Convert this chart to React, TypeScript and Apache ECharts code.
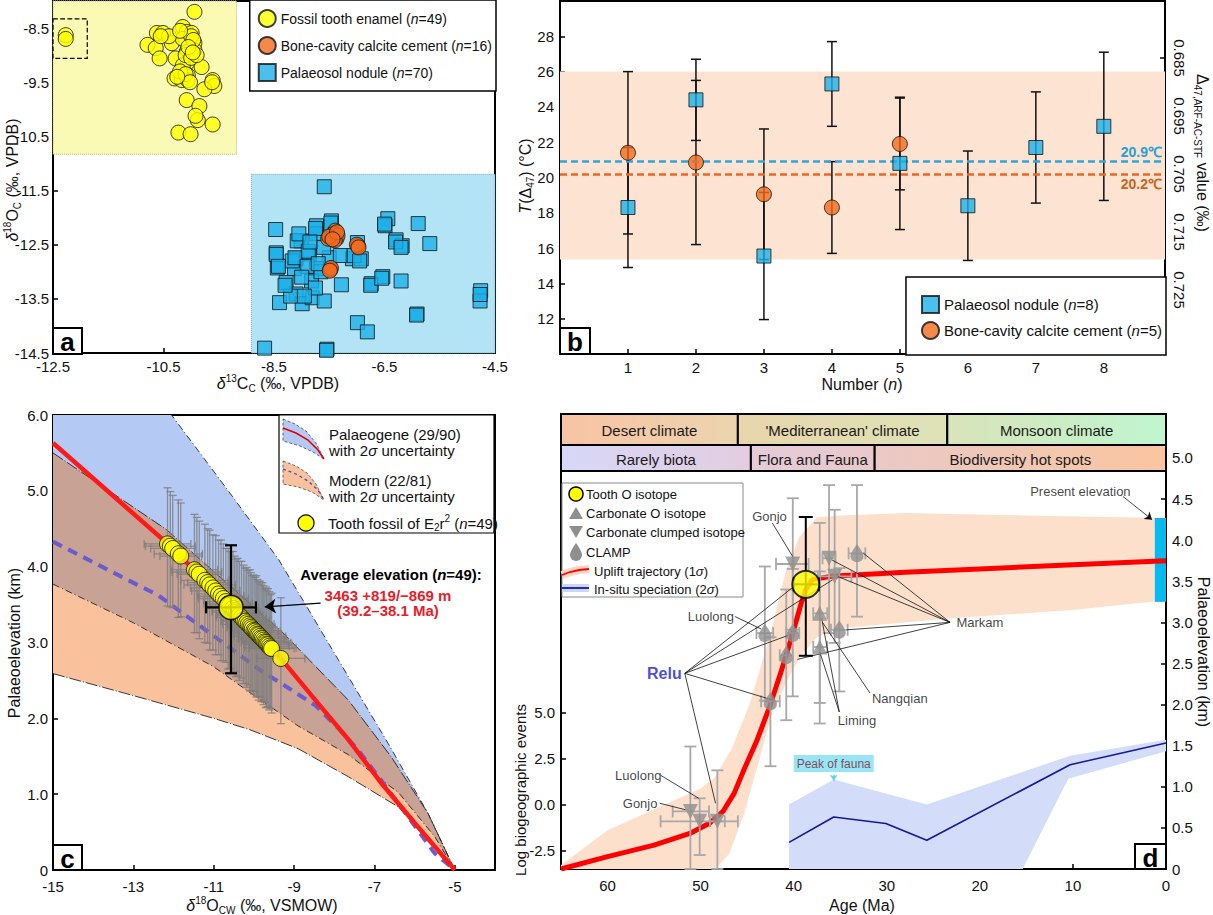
import React, { useEffect, useRef } from "react";
import * as echarts from "echarts";

echarts.graphic.registerShape(
  "dropShape",
  echarts.graphic.extendPath("M6,0C6,0,0,8,0,12A6,6,0,1,0,12,12C12,8,6,0,6,0Z", {})
);

const FONT = "'Liberation Sans', Arial, Helvetica, sans-serif";
const DROP = "path://M6,0C6,0,0,8,0,12A6,6,0,1,0,12,12C12,8,6,0,6,0Z";

// ---------------- Panel a ----------------
const toothEnamelA = [
  [-12.27, -8.63], [-12.27, -8.7], [-9.94, -8.2], [-10.79, -8.81], [-10.62, -8.59], [-10.51, -8.59],
  [-10.64, -8.87], [-10.57, -9.06], [-10.35, -8.78], [-10.15, -8.48], [-10.08, -8.57], [-9.99, -8.59],
  [-10.15, -8.7], [-9.94, -8.78], [-9.94, -8.91], [-10.08, -8.94], [-10.28, -9.06], [-10.06, -9.13],
  [-9.81, -9.22], [-10.15, -9.19], [-10.3, -9.43], [-10.06, -9.37], [-10.17, -9.46], [-10.06, -9.46],
  [-9.61, -9.46], [-9.58, -9.57], [-9.76, -9.63], [-10.08, -9.83], [-9.85, -9.94], [-9.88, -10.2],
  [-9.61, -10.28], [-10.23, -10.43], [-10.01, -10.46], [-10.0, -8.65], [-9.96, -8.72], [-10.1, -9.0],
  [-10.0, -9.05], [-10.2, -9.3], [-10.1, -9.35], [-9.9, -9.0], [-10.4, -8.65], [-10.02, -9.5],
  [-9.62, -9.5], [-9.92, -10.12], [-10.25, -9.4], [-10.05, -8.85], [-10.2, -8.55], [-10.55, -8.65],
  [-9.97, -8.95],
];
const boneCementA = [
  [-7.39, -12.24], [-7.52, -12.39], [-7.37, -12.39], [-6.98, -12.52], [-7.48, -12.96], [-7.42, -12.3],
  [-7.45, -12.36], [-7.35, -12.33], [-7.4, -12.42], [-7.5, -12.35], [-7.0, -12.5], [-6.97, -12.55],
  [-7.47, -12.93], [-7.49, -12.98], [-7.36, -12.27], [-7.44, -12.4],
];
const palaeosolA = [
  [-7.59, -11.43], [-8.47, -12.22], [-7.73, -12.15], [-7.46, -12.06], [-6.44, -12.02], [-6.49, -12.15],
  [-5.89, -12.11], [-8.01, -12.43], [-7.73, -12.3], [-6.99, -12.46], [-6.29, -12.41], [-6.18, -12.52],
  [-5.68, -12.48], [-8.46, -12.65], [-8.1, -12.76], [-7.86, -12.67], [-7.5, -12.74], [-7.08, -12.76],
  [-6.92, -12.76], [-8.44, -12.93], [-8.13, -12.94], [-7.73, -12.94], [-7.82, -13.17], [-8.28, -13.2],
  [-7.28, -13.24], [-6.74, -13.22], [-6.53, -13.09], [-6.2, -13.17], [-8.1, -13.41], [-8.4, -13.57],
  [-7.99, -13.59], [-7.81, -13.48], [-7.59, -13.54], [-6.99, -13.94], [-6.81, -14.11], [-5.91, -13.78],
  [-4.76, -13.35], [-4.77, -13.54], [-8.67, -14.41], [-7.54, -14.43], [-8.17, -12.8], [-8.08, -12.43],
  [-8.46, -12.68], [-8.12, -12.74], [-7.88, -12.62], [-7.75, -12.2], [-7.47, -12.1], [-7.6, -12.55],
  [-7.9, -12.9], [-7.65, -13.0], [-8.0, -13.1], [-7.75, -13.3], [-8.2, -13.45], [-7.95, -13.45],
  [-7.3, -12.7], [-7.05, -12.7], [-6.95, -12.8], [-6.5, -12.12], [-6.3, -12.45], [-6.2, -12.55],
  [-6.75, -13.25], [-6.55, -13.12], [-5.92, -13.8], [-4.77, -13.42], [-7.55, -14.45], [-8.05, -12.3],
  [-7.85, -12.45], [-8.3, -13.25], [-7.7, -12.85], [-8.42, -12.9],
];
const toothRegionA = [[-12.5, -8.0], [-9.18, -10.83]];
const noduleRegionA = [[-8.91, -11.2], [-4.5, -14.5]];
const outlierBoxA = [[-12.5, -8.33], [-11.88, -9.06]];
const aXTicks = [-12.5, -10.5, -8.5, -6.5, -4.5];
const aYTicks = [-14.5, -13.5, -12.5, -11.5, -10.5, -9.5, -8.5];

// ---------------- Panel b ----------------
const bNoduleN = [1, 2, 3, 4, 5, 6, 7, 8];
const bNoduleT = [18.3, 24.4, 15.55, 25.3, 20.8, 18.4, 21.7, 22.9];
const bNoduleErr = [3.4, 2.3, 3.6, 2.4, 3.75, 3.1, 3.15, 4.2];
const bCementN = [1, 2, 3, 4, 5];
const bCementT = [21.4, 20.85, 19.05, 18.3, 21.9];
const bCementErr = [4.6, 4.65, 3.7, 2.6, 2.6];
const bRange = [15.35, 26.0];
const bNoduleMean = 20.9;
const bCementMean = 20.2;
const bXTicks = [1, 2, 3, 4, 5, 6, 7, 8];
const bYTicks = [12, 14, 16, 18, 20, 22, 24, 26, 28];
const bRightTicks = [0.685, 0.695, 0.705, 0.715, 0.725];

// ---------------- Panel c ----------------
const palaeogeneMean = [[-15, 5.63], [-12.1, 4.28], [-10.57, 3.47], [-9.33, 2.79], [-8.47, 2.24], [-7.65, 1.72], [-6.82, 1.14], [-6.0, 0.62], [-5, 0]];
const palaeogeneUpper = [[-15, 8.1], [-13.5, 7.05], [-12.05, 6.0], [-10.54, 4.93], [-9.38, 4.09], [-8.85, 3.62], [-7.65, 2.55], [-6.66, 1.67], [-5.67, 0.75], [-5, 0]];
const palaeogeneLower = [[-15, 3.77], [-13, 3.26], [-11, 2.68], [-10.1, 2.34], [-8.9, 1.9], [-7.65, 1.52], [-6.4, 1.02], [-5.5, 0.44], [-5, 0]];
const modernMean = [[-15, 4.33], [-12.9, 3.76], [-12.4, 3.63], [-9.8, 2.62], [-9.2, 2.42], [-8.47, 2.17], [-7.9, 1.87], [-7.4, 1.58], [-6.66, 1.06], [-6.16, 0.7], [-5.5, 0.22], [-5, 0]];
const modernUpper = [[-15, 5.5], [-12.18, 4.49], [-9.3, 3.14], [-7.65, 2.24], [-6.58, 1.49], [-5.67, 0.75], [-5, 0]];
const modernLower = [[-15, 2.59], [-13, 2.3], [-11, 2.0], [-10.1, 1.85], [-8.9, 1.6], [-7.65, 1.23], [-6.4, 0.83], [-5.5, 0.33], [-5, 0]];
// [d18O, elevation km, d18O err, elev +err, elev -err]
const toothFossilC = [
  [-12.15, 4.3, 0.58, 0.74, 0.82], [-12.08, 4.27, 0.62, 0.72, 0.8], [-12.02, 4.24, 0.55, 0.7, 0.78],
  [-11.88, 4.17, 0.6, 0.71, 0.84], [-11.82, 4.14, 0.52, 0.7, 0.8], [-11.48, 3.96, 0.58, 0.73, 0.83],
  [-11.42, 3.93, 0.62, 0.72, 0.8], [-11.36, 3.9, 0.55, 0.7, 0.85], [-11.22, 3.82, 0.6, 0.74, 0.82],
  [-11.15, 3.79, 0.5, 0.71, 0.8], [-11.1, 3.76, 0.64, 0.72, 0.86], [-11.02, 3.72, 0.56, 0.7, 0.82],
  [-10.95, 3.68, 0.6, 0.73, 0.84], [-10.88, 3.64, 0.52, 0.71, 0.8], [-10.82, 3.61, 0.58, 0.74, 0.85],
  [-10.76, 3.58, 0.62, 0.72, 0.82], [-10.7, 3.54, 0.55, 0.7, 0.8], [-10.64, 3.51, 0.6, 0.73, 0.86],
  [-10.6, 3.49, 0.5, 0.71, 0.83], [-10.52, 3.45, 0.64, 0.75, 0.84], [-10.48, 3.42, 0.56, 0.72, 0.8],
  [-10.44, 3.4, 0.6, 0.7, 0.85], [-10.4, 3.38, 0.52, 0.73, 0.82], [-10.36, 3.36, 0.58, 0.71, 0.86],
  [-10.31, 3.33, 0.62, 0.74, 0.8], [-10.26, 3.3, 0.55, 0.72, 0.84], [-10.22, 3.28, 0.6, 0.7, 0.82],
  [-10.18, 3.26, 0.5, 0.73, 0.85], [-10.14, 3.24, 0.64, 0.71, 0.8], [-10.1, 3.22, 0.56, 0.74, 0.86],
  [-10.07, 3.2, 0.6, 0.72, 0.83], [-10.04, 3.18, 0.52, 0.7, 0.82], [-10.0, 3.16, 0.58, 0.73, 0.84],
  [-9.97, 3.15, 0.62, 0.71, 0.8], [-9.94, 3.13, 0.55, 0.75, 0.85], [-9.91, 3.11, 0.6, 0.72, 0.82],
  [-9.88, 3.1, 0.5, 0.7, 0.86], [-9.85, 3.08, 0.64, 0.73, 0.8], [-9.82, 3.06, 0.56, 0.71, 0.84],
  [-9.79, 3.05, 0.6, 0.74, 0.82], [-9.76, 3.03, 0.52, 0.72, 0.85], [-9.73, 3.01, 0.58, 0.7, 0.8],
  [-9.7, 3.0, 0.62, 0.73, 0.86], [-9.68, 2.98, 0.55, 0.71, 0.83], [-9.65, 2.97, 0.6, 0.74, 0.82],
  [-9.62, 2.95, 0.5, 0.72, 0.84], [-9.59, 2.93, 0.64, 0.7, 0.8], [-9.56, 2.92, 0.56, 0.73, 0.85],
  [-9.33, 2.79, 0.6, 0.8, 0.86],
];
const averageC = [-10.57, 3.463, 0.62, 0.819, 0.869];
const cXTicks = [-15, -13, -11, -9, -7, -5];
const cYTicks = [0, 1, 2, 3, 4, 5, 6];

// ---------------- Panel d ----------------
const upliftTrajectory = [[65, 0], [60, 0.15], [55, 0.29], [51, 0.44], [49, 0.56], [47.6, 0.7], [46.4, 0.92], [45.3, 1.22], [44, 1.55], [42.6, 1.97], [41.3, 2.42], [40.2, 2.83], [39.2, 3.23], [38.7, 3.4], [38.0, 3.52], [36, 3.56], [28, 3.61], [20, 3.65], [10, 3.7], [0, 3.75]];
const upliftUpper = [[65, 0.05], [60, 0.47], [54.5, 0.75], [50, 0.98], [48.6, 1.1], [46.7, 1.45], [44.7, 2.02], [42.6, 2.82], [40.8, 3.64], [39.4, 4.04], [37.5, 4.28], [35, 4.3], [28, 4.33], [15, 4.3], [0, 4.27]];
const upliftLower = [[65, 0], [48.4, 0], [46.9, 0.19], [45.3, 0.68], [43.8, 1.29], [42.3, 1.9], [40.7, 2.3], [39.2, 2.6], [37.5, 2.82], [36, 2.9], [35, 2.93], [23, 3.05], [10, 3.15], [0, 3.27]];
const speciationLine = [[40.5, -2.05], [35.7, -0.67], [30.1, -1.03], [25.7, -1.94], [10.3, 2.17], [0, 3.35]];
const speciationUpper = [[40.5, 0.0], [35.7, 1.36], [25.7, 0.0], [10.3, 2.66], [0, 3.53]];
const speciationLower = [[40.5, -3.5], [15.4, -3.5], [10.5, 1.41], [0, 2.9]];
const presentElevationTop = [[1.2, 4.27], [0, 4.27]];
const presentElevationBottom = [[1.2, 3.25], [0, 3.25]];
// [age, km, ageLow, ageHigh, kmLow, kmHigh]
const toothD = [[38.7, 3.463, 40.0, 37.3, 2.594, 4.282]];
const carbonateO = [[37.2, 3.11, 37.9, 36.4, 2.02, 4.21], [37.2, 2.7, 37.9, 36.4, 1.77, 3.62]];
const clumped = [
  [40.1, 3.71, 41.9, 38.4, 2.91, 4.51], [36.2, 3.78, 36.9, 35.5, 2.87, 4.67], [35.6, 3.56, 37.4, 33.8, 2.75, 4.37],
  [51.1, 0.7, 53.0, 49.1, 0.0, 1.49], [50.1, 0.58, 54.3, 46.0, 0.17, 0.86], [48.2, 0.58, 49.0, 47.4, 0.0, 1.2],
];
const clamp = [
  [43.1, 2.87, 44.0, 42.2, 2.05, 3.68], [40.1, 2.87, 40.8, 39.4, 2.1, 3.65], [40.8, 2.6, 41.5, 40.1, 1.81, 3.4],
  [42.5, 2.04, 43.5, 41.5, 1.25, 2.82], [35.1, 2.91, 36.0, 34.2, 2.16, 3.66], [33.2, 3.84, 34.1, 32.3, 3.07, 4.67],
];
const siteLabels = [
  { text: "Gonjo", age: 42.6, km: 4.29 }, { text: "Luolong", age: 48.9, km: 3.07 },
  { text: "Relu", age: 53.9, km: 2.38 }, { text: "Liming", age: 33.2, km: 1.81 },
  { text: "Nangqian", age: 28.6, km: 2.07 }, { text: "Markam", age: 20.0, km: 3.0 },
  { text: "Luolong", age: 56.7, km: 1.14 }, { text: "Gonjo", age: 56.5, km: 0.8 },
  { text: "Present elevation", age: 9.2, km: 4.59 },
];
const leaderLines = [
  [[42.3, 4.21], [40.1, 3.8]], [[46.3, 3.07], [43.5, 2.92]],
  [[51.7, 2.38], [39.5, 3.48]], [[51.7, 2.38], [35.8, 3.52]], [[51.7, 2.38], [40.4, 2.85]],
  [[51.7, 2.38], [42.4, 2.06]], [[51.7, 2.38], [48.4, 0.8]],
  [[35.1, 1.91], [37.2, 2.64]], [[35.1, 1.91], [37.0, 3.05]], [[31.8, 2.14], [36.9, 3.0]],
  [[23.2, 3.0], [32.5, 3.84]], [[23.2, 3.0], [35.9, 3.76]], [[23.2, 3.0], [35.3, 3.56]],
  [[23.2, 3.0], [34.3, 2.91]], [[23.2, 3.0], [39.6, 2.55]],
  [[54.3, 1.14], [50.2, 0.86]], [[54.4, 0.8], [51.6, 0.72]],
];
const presentArrow = [[4.6, 4.53], [1.5, 4.25]];
const peakOfFauna = { text: "Peak of fauna", age: 35.7, log: 2.23 };
const peakArrow = [[35.7, 1.62], [35.7, 1.3]];
const climateRow = [
  { label: "Desert climate", from: 65, to: 46.0 },
  { label: "'Mediterranean' climate", from: 46.0, to: 23.5 },
  { label: "Monsoon climate", from: 23.5, to: 0 },
];
const biotaRow = [
  { label: "Rarely biota", from: 65, to: 44.6 },
  { label: "Flora and Fauna", from: 44.6, to: 31.3 },
  { label: "Biodiversity hot spots", from: 31.3, to: 0 },
];
const dXTicks = [0, 10, 20, 30, 40, 50, 60];
const dLeftTicks = [-2.5, 0, 2.5, 5];
const dRightTicks = [0, 0.5, 1, 1.5, 2, 2.5, 3, 3.5, 4, 4.5, 5];

// ---------------- styles ----------------
const climateColors = [["#f8c3a5", "#ecd4ae"], ["#e9d5ab", "#dde3b7"], ["#d9e3b9", "#bff6cf"]];
const biotaColors = [["#d7d7f8", "#e3cddf"], ["#e5cbd9", "#e8c8cb"], ["#e9c9c7", "#fac5a0"]];

function mkRich(size: number, weight = "normal") {
  const s = Math.round(size * 0.64);
  return {
    i: { fontStyle: "italic", fontSize: size, fontFamily: FONT, fontWeight: weight },
    sup: { fontSize: s, fontFamily: FONT, fontWeight: weight, verticalAlign: "top", lineHeight: s + 1 },
    sub: { fontSize: s, fontFamily: FONT, fontWeight: weight, verticalAlign: "bottom", lineHeight: s + 1 },
  };
}

function axisCommon(ticks: number[], fmt: (v: number) => string, labelExtra: any = {}) {
  return {
    axisLine: { show: true, onZero: false, lineStyle: { color: "#000", width: 2 } },
    axisTick: { show: true, inside: true, length: 5, customValues: ticks, lineStyle: { color: "#000", width: 1.5 } },
    axisLabel: { show: true, customValues: ticks, formatter: fmt, color: "#111", fontSize: 15, fontFamily: FONT, margin: 6, ...labelExtra },
    splitLine: { show: false },
    minorTick: { show: false },
  };
}

function bandSeries(xi: number, yi: number, upper: number[][], lower: number[][], color: string, z: number) {
  return {
    type: "custom", xAxisIndex: xi, yAxisIndex: yi, z, silent: true, clip: true,
    data: [lower[0]], encode: { x: 0, y: 1 },
    renderItem: (params: any, api: any) => {
      const pts = upper.map((p) => api.coord(p)).concat(lower.slice().reverse().map((p) => api.coord(p)));
      const cs = params.coordSys;
      return {
        type: "polygon", shape: { points: pts }, style: { fill: color },
        clipPath: { type: "rect", shape: { x: cs.x, y: cs.y, width: cs.width, height: cs.height } },
      };
    },
  };
}

function errSeries(xi: number, yi: number, data: number[][], color: string, width: number, cap: number, z: number) {
  return {
    type: "custom", xAxisIndex: xi, yAxisIndex: yi, z, silent: true, data, encode: { x: 0, y: 1 },
    renderItem: (params: any, api: any) => {
      const x = api.value(0), y = api.value(1);
      const xl = api.value(2), xh = api.value(3), yl = api.value(4), yh = api.value(5);
      const st = { stroke: color, lineWidth: width };
      const ch: any[] = [];
      const ln = (x1: number, y1: number, x2: number, y2: number) =>
        ch.push({ type: "line", shape: { x1, y1, x2, y2 }, style: st });
      if (yl !== yh) {
        const a = api.coord([x, yl]), b = api.coord([x, yh]);
        ln(a[0], a[1], b[0], b[1]);
        ln(a[0] - cap, a[1], a[0] + cap, a[1]);
        ln(b[0] - cap, b[1], b[0] + cap, b[1]);
      }
      if (xl !== xh) {
        const a = api.coord([xl, y]), b = api.coord([xh, y]);
        ln(a[0], a[1], b[0], b[1]);
        ln(a[0], a[1] - cap, a[0], a[1] + cap);
        ln(b[0], b[1] - cap, b[0], b[1] + cap);
      }
      return { type: "group", children: ch };
    },
  };
}

function rowSeries(xi: number, yi: number, row: any[], colors: string[][]) {
  return {
    type: "custom", xAxisIndex: xi, yAxisIndex: yi, z: 20, silent: true,
    data: row.map((r) => [r.from, r.to]),
    renderItem: (params: any, api: any) => {
      const i = params.dataIndex;
      const a = api.coord([api.value(0), 1]);
      const b = api.coord([api.value(1), 0]);
      const x = Math.min(a[0], b[0]), w = Math.abs(b[0] - a[0]);
      const y = Math.min(a[1], b[1]), h = Math.abs(b[1] - a[1]);
      return {
        type: "group",
        children: [
          {
            type: "rect", shape: { x, y, width: w, height: h },
            style: {
              fill: new echarts.graphic.LinearGradient(0, 0, 1, 0, [
                { offset: 0, color: colors[i][0] }, { offset: 1, color: colors[i][1] },
              ]),
              stroke: "#000", lineWidth: 2,
            },
          },
          {
            type: "text",
            style: {
              text: row[i].label, x: x + w / 2, y: y + h / 2 + 1,
              align: "center", verticalAlign: "middle", textAlign: "center", textVerticalAlign: "middle",
              fontSize: 15, fontFamily: FONT, fill: "#1a1a1a",
            },
          },
        ],
      };
    },
  };
}

function buildOption() {
  const graphics: any[] = [];
  const text = (x: number, y: number, t: string, o: any = {}) => {
    const size = o.size || 16;
    graphics.push({
      type: "text", x, y, z: 100, silent: true, rotation: o.rotation || 0,
      style: {
        text: t, fill: o.color || "#111", fontSize: size, fontFamily: FONT, fontWeight: o.weight || "normal",
        align: o.align || "center", textAlign: o.align || "center",
        verticalAlign: "middle", textVerticalAlign: "middle",
        lineHeight: size + 4, rich: mkRich(size, o.weight || "normal"),
      },
    });
  };
  // panel labels
  [
    { x: 53, y: 328, w: 29, h: 26, t: "a" }, { x: 560, y: 328, w: 30, h: 26, t: "b" },
    { x: 53, y: 845, w: 29, h: 25, t: "c" }, { x: 1135, y: 844, w: 31, h: 25, t: "d" },
  ].forEach((p) => {
    graphics.push({ type: "rect", z: 99, silent: true, shape: { x: p.x, y: p.y, width: p.w, height: p.h }, style: { fill: "#fff", stroke: "#000", lineWidth: 2 } });
    graphics.push({
      type: "text", z: 100, silent: true, x: p.x + p.w / 2, y: p.y + p.h / 2 + 1,
      style: { text: p.t, fontSize: 26, fontWeight: "bold", fontFamily: FONT, fill: "#000", align: "center", textAlign: "center", verticalAlign: "middle", textVerticalAlign: "middle" },
    });
  });
  // axis titles
  const R = Math.PI / 2;
  text(278, 383, "{i|δ}{sup|13}C{sub|C} (‰, VPDB)");
  text(12, 180, "{i|δ}{sup|18}O{sub|C} (‰, VPDB)", { rotation: R });
  text(862, 384, "Number ({i|n})");
  text(525, 176, "{i|T}(Δ{sub|47}) (°C)", { rotation: R });
  text(1202, 153, "Δ{sub|47,ARF-AC-STF} value (‰)", { rotation: -R });
  text(262, 905, "{i|δ}{sup|18}O{sub|CW} (‰, VSMOW)");
  text(14, 643, "Palaeoelevation (km)", { rotation: R });
  text(862, 905, "Age (Ma)");
  text(520, 790, "Log biogeographic events", { rotation: R, size: 15 });
  text(1203, 652, "Palaeoelevation (km)", { rotation: -R });

  // panel c legend
  graphics.push({ type: "rect", z: 90, silent: true, shape: { x: 279, y: 415, width: 215, height: 118 }, style: { fill: "#fff", stroke: "#000", lineWidth: 1.2 } });
  graphics.push({ type: "polygon", z: 95, silent: true, shape: { points: [[283, 419], [295, 424], [306, 431], [316, 443], [324, 459], [313, 452], [300, 446], [290, 443], [283, 441]] }, style: { fill: "#b4c9f3", stroke: "#333", lineWidth: 0.7, lineDash: [3, 2] } });
  graphics.push({ type: "polyline", z: 96, silent: true, shape: { points: [[283, 428], [296, 433], [308, 440], [318, 450], [324, 459]] }, style: { stroke: "#e00000", lineWidth: 1.5, fill: null } });
  graphics.push({ type: "polygon", z: 95, silent: true, shape: { points: [[283, 461], [296, 466], [307, 473], [316, 484], [324, 500], [312, 492], [298, 487], [283, 484]] }, style: { fill: "#f9c29c", stroke: "#333", lineWidth: 0.7, lineDash: [3, 2] } });
  graphics.push({ type: "polyline", z: 96, silent: true, shape: { points: [[283, 469], [296, 474], [308, 481], [318, 490], [324, 500]] }, style: { stroke: "#4848c8", lineWidth: 1.3, lineDash: [3, 3], fill: null } });
  graphics.push({ type: "circle", z: 96, silent: true, shape: { cx: 306, cy: 523, r: 8 }, style: { fill: "#ffff00", stroke: "#000", lineWidth: 1.2 } });
  text(329, 434, "Palaeogene (29/90)", { align: "left", size: 15 });
  text(329, 450, "with 2{i|σ} uncertainty", { align: "left", size: 15 });
  text(329, 480, "Modern (22/81)", { align: "left", size: 15 });
  text(329, 496, "with 2{i|σ} uncertainty", { align: "left", size: 15 });
  text(328, 523, "Tooth fossil of E{sub|2}r{sup|2} ({i|n}=49)", { align: "left", size: 15 });
  // panel c annotation
  text(391, 574, "Average elevation ({i|n}=49):", { weight: "bold", size: 15, color: "#000" });
  text(388, 595, "3463 +819/−869 m", { weight: "bold", size: 15, color: "#e8202a" });
  text(388, 610, "(39.2–38.1 Ma)", { weight: "bold", size: 15, color: "#e8202a" });

  // panel d legend
  graphics.push({ type: "rect", z: 90, silent: true, shape: { x: 562, y: 483, width: 181, height: 114 }, style: { fill: "#fff", stroke: "#8a8a8a", lineWidth: 1 } });
  graphics.push({ type: "circle", z: 96, silent: true, shape: { cx: 576, cy: 494, r: 7 }, style: { fill: "#ffff00", stroke: "#000", lineWidth: 1.5 } });
  graphics.push({ type: "polygon", z: 96, silent: true, shape: { points: [[569, 519], [583, 519], [576, 507]] }, style: { fill: "#8f8f8f" } });
  graphics.push({ type: "polygon", z: 96, silent: true, shape: { points: [[569, 526], [583, 526], [576, 538]] }, style: { fill: "#8f8f8f" } });
  graphics.push({ type: "dropShape", z: 96, silent: true, x: 570, y: 543, style: { fill: "#8f8f8f" } });
  graphics.push({ type: "polyline", z: 95, silent: true, shape: { points: [[562, 575], [570, 572], [579, 570], [589, 569]] }, style: { stroke: "#fbd5c0", lineWidth: 8, fill: null } });
  graphics.push({ type: "polyline", z: 96, silent: true, shape: { points: [[562, 575], [570, 572], [579, 570], [589, 569]] }, style: { stroke: "#ff0000", lineWidth: 1.8, fill: null } });
  graphics.push({ type: "rect", z: 95, silent: true, shape: { x: 562, y: 584, width: 27, height: 8 }, style: { fill: "#c9d7f8" } });
  graphics.push({ type: "line", z: 96, silent: true, shape: { x1: 562, y1: 588, x2: 589, y2: 588 }, style: { stroke: "#1616a0", lineWidth: 1.8 } });
  text(586, 494, "Tooth O isotope", { align: "left", size: 13 });
  text(586, 513, "Carbonate O isotope", { align: "left", size: 13 });
  text(586, 532, "Carbonate clumped isotope", { align: "left", size: 13 });
  text(586, 552, "CLAMP", { align: "left", size: 13 });
  text(594, 571, "Uplift trajectory (1{i|σ})", { align: "left", size: 13 });
  text(594, 589, "In-situ speciation (2{i|σ})", { align: "left", size: 13 });

  const gridBase = { show: true, borderColor: "#000", borderWidth: 2, backgroundColor: "rgba(0,0,0,0)", containLabel: false, outerBoundsMode: "none" };
  const legendRich = (size: number) => ({ i: { fontStyle: "italic", fontSize: size, fontFamily: FONT, color: "#111" } });

  const toothCErr = toothFossilC.map((p) => [p[0], p[1], p[0] - p[2], p[0] + p[2], p[1] - p[4], p[1] + p[3]]);
  const avgErr = [[averageC[0], averageC[1], averageC[0] - averageC[2], averageC[0] + averageC[2], averageC[1] - averageC[4], averageC[1] + averageC[3]]];
  const lineS = (xi: number, yi: number, data: number[][], ls: any, z: number, extra: any = {}) => ({
    type: "line", xAxisIndex: xi, yAxisIndex: yi, data, symbol: "none", showSymbol: false, silent: true, clip: true, z, lineStyle: ls, ...extra,
  });
  const dashDot = { color: "#222", width: 0.9, type: [7, 3, 1, 3] };
  const gray = "#8f8f8f";

  return {
    animation: false,
    backgroundColor: "#fff",
    textStyle: { fontFamily: FONT },
    grid: [
      { ...gridBase, left: 53, top: 1, width: 442, height: 352 },
      { ...gridBase, left: 560, top: 1, width: 605, height: 353 },
      { ...gridBase, left: 53, top: 415, width: 442, height: 455 },
      { ...gridBase, left: 561, top: 414, width: 605, height: 455 },
      { left: 561, top: 414, width: 605, height: 31, show: false, containLabel: false, outerBoundsMode: "none" },
      { left: 561, top: 445, width: 605, height: 26, show: false, containLabel: false, outerBoundsMode: "none" },
    ],
    xAxis: [
      { gridIndex: 0, type: "value", min: -12.5, max: -4.5, ...axisCommon(aXTicks, (v) => v.toFixed(1)) },
      { gridIndex: 1, type: "value", min: 0, max: 8.9, ...axisCommon(bXTicks, (v) => String(v)) },
      { gridIndex: 2, type: "value", min: -15, max: -4, ...axisCommon(cXTicks, (v) => String(v), { margin: 9 }) },
      { gridIndex: 3, type: "value", min: 0, max: 65, inverse: true, ...axisCommon(dXTicks, (v) => String(v), { margin: 9 }) },
      { gridIndex: 4, type: "value", min: 0, max: 65, inverse: true, show: false },
      { gridIndex: 5, type: "value", min: 0, max: 65, inverse: true, show: false },
    ],
    yAxis: [
      { gridIndex: 0, type: "value", min: -14.5, max: -8.0, ...axisCommon(aYTicks, (v) => v.toFixed(1), { margin: 4 }) },
      { gridIndex: 1, type: "value", min: 10, max: 30, position: "left", ...axisCommon(bYTicks, (v) => String(v)) },
      { gridIndex: 1, type: "value", min: 0.67517, max: 0.73603, inverse: true, position: "right", ...axisCommon(bRightTicks, (v) => v.toFixed(3), { rotate: -90, margin: 7 }) },
      { gridIndex: 2, type: "value", min: 0, max: 6, ...axisCommon(cYTicks, (v) => (v === 0 ? "0" : v.toFixed(1)), { margin: 5 }) },
      { gridIndex: 3, type: "value", min: -3.5, max: 21.23, position: "left", ...axisCommon(dLeftTicks, (v) => v.toFixed(1)) },
      { gridIndex: 3, type: "value", min: 0, max: 5.535, position: "right", ...axisCommon(dRightTicks, (v) => (v === 0 ? "0" : v.toFixed(1))) },
      { gridIndex: 4, type: "value", min: 0, max: 1, show: false },
      { gridIndex: 5, type: "value", min: 0, max: 1, show: false },
    ],
    legend: [
      {
        orient: "vertical", right: 1213 - 496, top: 0, selectedMode: false,
        data: ["Fossil tooth enamel (n=49)", "Bone-cavity calcite cement (n=16)", "Palaeosol nodule (n=70)"],
        itemWidth: 17, itemHeight: 17, itemGap: 8, padding: [9, 4, 9, 8],
        borderColor: "#000", borderWidth: 1.5, backgroundColor: "#fff",
        textStyle: { fontSize: 14, fontFamily: FONT, color: "#111", rich: legendRich(14) },
        formatter: (name: string) => name.replace("(n=", "({i|n}="),
      },
      {
        orient: "vertical", right: 1213 - 1166, bottom: 915 - 355, selectedMode: false,
        data: ["Palaeosol nodule (n=8)", "Bone-cavity calcite cement (n=5)"],
        itemWidth: 17, itemHeight: 17, itemGap: 7, padding: [18, 4, 15, 15],
        borderColor: "#000", borderWidth: 1.5, backgroundColor: "#fff",
        textStyle: { fontSize: 15, fontFamily: FONT, color: "#111", rich: legendRich(15) },
        formatter: (name: string) => name.replace("(n=", "({i|n}="),
      },
    ],
    graphic: graphics,
    series: [
      // ---------- a ----------
      {
        type: "line", xAxisIndex: 0, yAxisIndex: 0, data: [], z: 1, silent: true,
        markArea: {
          silent: true,
          data: [
            [{ coord: toothRegionA[0], itemStyle: { color: "#fafab4", borderColor: "#b8b870", borderType: "dotted", borderWidth: 1 } }, { coord: toothRegionA[1] }],
            [{ coord: noduleRegionA[0], itemStyle: { color: "#b2e4f6", borderColor: "#70a8b8", borderType: "dotted", borderWidth: 1 } }, { coord: noduleRegionA[1] }],
            [{ coord: outlierBoxA[0], itemStyle: { color: "rgba(0,0,0,0)", borderColor: "#000", borderType: "dashed", borderWidth: 1.2 } }, { coord: outlierBoxA[1] }],
          ],
        },
      },
      { type: "scatter", name: "Palaeosol nodule (n=70)", xAxisIndex: 0, yAxisIndex: 0, z: 3, data: palaeosolA, symbol: "rect", symbolSize: 14, itemStyle: { color: "#1cb0e8", borderColor: "#111", borderWidth: 1 } },
      { type: "scatter", name: "Bone-cavity calcite cement (n=16)", xAxisIndex: 0, yAxisIndex: 0, z: 4, data: boneCementA, symbol: "circle", symbolSize: 15, itemStyle: { color: "#f26c1e", borderColor: "#111", borderWidth: 1 } },
      { type: "scatter", name: "Fossil tooth enamel (n=49)", xAxisIndex: 0, yAxisIndex: 0, z: 5, data: toothEnamelA, symbol: "circle", symbolSize: 15, itemStyle: { color: "#ffff00", borderColor: "#111", borderWidth: 1 } },

      // ---------- b ----------
      {
        type: "line", xAxisIndex: 1, yAxisIndex: 1, data: [], z: 1, silent: true,
        markArea: { silent: true, itemStyle: { color: "#fde3d1" }, data: [[{ yAxis: bRange[0] }, { yAxis: bRange[1] }]] },
      },
      {
        type: "line", xAxisIndex: 1, yAxisIndex: 1, data: [], z: 2, silent: true,
        markLine: {
          silent: true, symbol: ["none", "none"],
          data: [
            { yAxis: bNoduleMean, lineStyle: { color: "#2ea6dc", width: 2.5, type: [7, 4] }, label: { show: true, position: "insideEndTop", formatter: "20.9℃", color: "#2a9fd0", fontWeight: "bold", fontSize: 14, fontFamily: FONT, distance: 3 } },
            { yAxis: bCementMean, lineStyle: { color: "#e8682a", width: 2.5, type: [7, 4] }, label: { show: true, position: "insideEndBottom", formatter: "20.2℃", color: "#c8641e", fontWeight: "bold", fontSize: 14, fontFamily: FONT, distance: 3 } },
          ],
        },
      },
      errSeries(1, 1, bCementN.map((n, i) => [n, bCementT[i], n, n, bCementT[i] - bCementErr[i], bCementT[i] + bCementErr[i]]), "#111", 1.5, 5, 3),
      errSeries(1, 1, bNoduleN.map((n, i) => [n, bNoduleT[i], n, n, bNoduleT[i] - bNoduleErr[i], bNoduleT[i] + bNoduleErr[i]]), "#111", 1.5, 5, 3),
      { type: "scatter", name: "Bone-cavity calcite cement (n=5)", xAxisIndex: 1, yAxisIndex: 1, z: 5, data: bCementN.map((n, i) => [n, bCementT[i]]), symbol: "circle", symbolSize: 15, itemStyle: { color: "#f26c1e", borderColor: "#111", borderWidth: 1 } },
      { type: "scatter", name: "Palaeosol nodule (n=8)", xAxisIndex: 1, yAxisIndex: 1, z: 6, data: bNoduleN.map((n, i) => [n, bNoduleT[i]]), symbol: "rect", symbolSize: 14, itemStyle: { color: "#1cb0e8", borderColor: "#111", borderWidth: 1 } },

      // ---------- c ----------
      bandSeries(2, 3, palaeogeneUpper, palaeogeneLower, "#b4c9f3", 1),
      bandSeries(2, 3, modernUpper, modernLower, "#f9c29c", 1),
      bandSeries(2, 3, modernUpper, palaeogeneLower, "#c8a294", 1),
      lineS(2, 3, palaeogeneUpper, dashDot, 2),
      lineS(2, 3, palaeogeneLower, dashDot, 2),
      lineS(2, 3, modernUpper, { color: "#222", width: 0.9, type: [12, 2, 1, 2] }, 2),
      lineS(2, 3, modernLower, { color: "#222", width: 0.9, type: [12, 2, 1, 2] }, 2),
      lineS(2, 3, modernMean, { color: "#6a5cd0", width: 4, type: [10, 7] }, 3),
      lineS(2, 3, palaeogeneMean, { color: "#ff1a1a", width: 4.5 }, 3, {
        markLine: {
          silent: true, symbol: ["none", "arrow"], symbolSize: 11,
          lineStyle: { color: "#000", width: 1.2, type: "solid" }, label: { show: false },
          data: [[{ coord: [-8.34, 3.52] }, { coord: [-9.73, 3.47] }]],
        },
      }),
      errSeries(2, 3, toothCErr, "rgba(125,125,125,0.8)", 1.3, 4, 4),
      { type: "scatter", xAxisIndex: 2, yAxisIndex: 3, z: 5, silent: true, data: toothFossilC.map((p) => [p[0], p[1]]), symbol: "circle", symbolSize: 16, itemStyle: { color: "#ffff00", borderColor: "#111", borderWidth: 1 } },
      errSeries(2, 3, avgErr, "#000", 2.2, 6, 6),
      { type: "scatter", xAxisIndex: 2, yAxisIndex: 3, z: 7, silent: true, data: [[averageC[0], averageC[1]]], symbol: "circle", symbolSize: 24, itemStyle: { color: "#ffff00", borderColor: "#000", borderWidth: 1.5 } },

      // ---------- d ----------
      bandSeries(3, 4, speciationUpper, speciationLower, "#d3ddf9", 1),
      bandSeries(3, 5, upliftUpper, upliftLower, "#fde0cc", 1),
      bandSeries(3, 5, presentElevationTop, presentElevationBottom, "#06b9ee", 2),
      lineS(3, 4, speciationLine, { color: "#1616a0", width: 1.6 }, 3, {
        markLine: {
          silent: true, symbol: ["none", "arrow"], symbolSize: 6,
          lineStyle: { color: "#5fd4f0", width: 1.5, type: "solid" }, label: { show: false },
          data: [[{ coord: peakArrow[0] }, { coord: peakArrow[1] }]],
        },
      }),
      lineS(3, 5, upliftTrajectory, { color: "#ff0000", width: 5 }, 3, {
        markLine: {
          silent: true, symbol: ["none", "none"], lineStyle: { color: "#111", width: 0.8, type: "solid" }, label: { show: false },
          data: [
            ...leaderLines.map((l) => [{ coord: l[0] }, { coord: l[1] }]),
            [{ coord: presentArrow[0] }, { coord: presentArrow[1], symbol: "arrow", symbolSize: 7 }],
          ],
        },
      }),
      errSeries(3, 5, clamp, "#a8a8a8", 1.8, 6, 4),
      errSeries(3, 5, carbonateO, "#a8a8a8", 1.8, 6, 4),
      errSeries(3, 5, clumped, "#a8a8a8", 1.8, 6, 4),
      { type: "scatter", xAxisIndex: 3, yAxisIndex: 5, z: 5, silent: true, data: clamp.map((p) => [p[0], p[1]]), symbol: DROP, symbolSize: [13, 18], itemStyle: { color: gray } },
      { type: "scatter", xAxisIndex: 3, yAxisIndex: 5, z: 5, silent: true, data: carbonateO.map((p) => [p[0], p[1]]), symbol: "triangle", symbolSize: 15, itemStyle: { color: gray } },
      { type: "scatter", xAxisIndex: 3, yAxisIndex: 5, z: 5, silent: true, data: clumped.map((p) => [p[0], p[1]]), symbol: "triangle", symbolRotate: 180, symbolSize: 15, itemStyle: { color: gray } },
      errSeries(3, 5, toothD, "#000", 2, 7, 6),
      { type: "scatter", xAxisIndex: 3, yAxisIndex: 5, z: 7, silent: true, data: toothD.map((p) => [p[0], p[1]]), symbol: "circle", symbolSize: 27, itemStyle: { color: "#ffff00", borderColor: "#000", borderWidth: 2 } },
      {
        type: "scatter", xAxisIndex: 3, yAxisIndex: 5, z: 9, silent: true, symbolSize: 1, itemStyle: { color: "rgba(0,0,0,0)" },
        data: siteLabels.map((l) => ({
          name: l.text, value: [l.age, l.km],
          label: l.text === "Relu" ? { color: "#1a1ad0", fontWeight: "bold", fontSize: 16 } : undefined,
        })),
        label: { show: true, position: "inside", formatter: "{b}", color: "#111", fontSize: 13, fontFamily: FONT },
      },
      {
        type: "scatter", xAxisIndex: 3, yAxisIndex: 4, z: 9, silent: true, symbolSize: 1, itemStyle: { color: "rgba(0,0,0,0)" },
        data: [{ name: peakOfFauna.text, value: [peakOfFauna.age, peakOfFauna.log] }],
        label: { show: true, position: "inside", formatter: "{b}", color: "#7b1c2c", fontSize: 12, fontFamily: FONT, backgroundColor: "#7ee0f2", padding: [3, 3, 2, 3] },
      },
      rowSeries(4, 6, climateRow, climateColors),
      rowSeries(5, 7, biotaRow, biotaColors),
    ],
  };
}

export default function App() {
  const ref = useRef<HTMLDivElement>(null);
  useEffect(() => {
    if (!ref.current) return;
    const chart = echarts.init(ref.current, null, { renderer: "svg" });
    chart.setOption(buildOption() as any);
    return () => chart.dispose();
  }, []);
  return (
    <div
      ref={ref}
      style={{ position: "absolute", left: 0, top: 0, width: 1213, height: 915, background: "#fff" }}
    />
  );
}
